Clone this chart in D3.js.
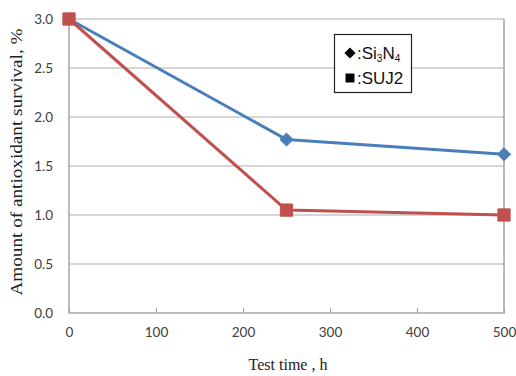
<!DOCTYPE html>
<html>
<head>
<meta charset="utf-8">
<script src="https://cdn.jsdelivr.net/npm/d3@7"></script>
<style>
	body { margin: 0; background: #fff; }
	svg { display: block; }
</style>
</head>
<body>
<div id="chart"></div>
<script>
// data
var times = [0, 250, 500];
var si3n4 = [3.0, 1.77, 1.62];
var suj2 = [3.0, 1.05, 1.0];
var xTicks = [0, 100, 200, 300, 400, 500];
var yTicks = [0, 0.5, 1.0, 1.5, 2.0, 2.5, 3.0];

var W = 516, H = 376;
var plotL = 69, plotR = 504, plotT = 19, plotB = 313;

var svg = d3.select('#chart').append('svg')
	.attr('width', W).attr('height', H);

var x = d3.scaleLinear().domain([0, 500]).range([plotL, plotR]);
var y = d3.scaleLinear().domain([0, 3]).range([plotB, plotT]);

// horizontal grid
svg.append('g').selectAll('line')
	.data(yTicks.filter(function(d) { return d > 0; }))
	.enter().append('line')
	.attr('x1', plotL).attr('x2', plotR)
	.attr('y1', function(d) { return y(d); })
	.attr('y2', function(d) { return y(d); })
	.style('stroke', '#c8c8c8')
	.style('stroke-width', 1.5);

// frame: left, right, bottom
svg.append('path')
	.attr('d', 'M' + plotL + ',' + plotT + 'V' + plotB + 'H' + plotR + 'V' + plotT)
	.style('fill', 'none')
	.style('stroke', '#a6a6a6')
	.style('stroke-width', 1.5);

// x axis: small inside ticks
var xAxis = svg.append('g')
	.attr('transform', 'translate(0,' + plotB + ')')
	.call(d3.axisBottom(x).tickValues(xTicks).tickSizeInner(-5).tickSizeOuter(0).tickPadding(14));
xAxis.select('.domain').remove();
xAxis.selectAll('line').style('stroke', '#a6a6a6').style('stroke-width', 1.2);
xAxis.selectAll('text')
	.style('font-family', 'Lato, sans-serif')
	.style('font-size', '13.5px')
	.style('fill', '#404040');

var yAxis = svg.append('g')
	.attr('transform', 'translate(' + plotL + ',0)')
	.call(d3.axisLeft(y).tickValues(yTicks).tickFormat(d3.format('.1f')).tickSize(0).tickPadding(16));
yAxis.select('.domain').remove();
yAxis.selectAll('text')
	.style('font-family', 'Lato, sans-serif')
	.style('font-size', '13.5px')
	.style('fill', '#404040');

// axis titles
svg.append('text')
	.attr('x', 288).attr('y', 370)
	.attr('text-anchor', 'middle')
	.style('font-family', '"Liberation Serif", "Times New Roman", serif')
	.style('font-size', '16px')
	.style('fill', '#222')
	.text('Test time , h');

svg.append('text')
	.attr('transform', 'translate(22,162) rotate(-90)')
	.attr('text-anchor', 'middle')
	.attr('textLength', 267)
	.attr('lengthAdjust', 'spacingAndGlyphs')
	.style('font-family', '"Liberation Serif", "Times New Roman", serif')
	.style('font-size', '17px')
	.style('fill', '#222')
	.text('Amount of antioxidant survival, %');

var line = d3.line()
	.x(function(d) { return x(d[0]); })
	.y(function(d) { return y(d[1]); });

function series(vals, color, symbol, size) {
	var pts = times.map(function(t, i) { return [t, vals[i]]; });
	var g = svg.append('g');
	g.append('path')
		.attr('d', line(pts))
		.style('fill', 'none')
		.style('stroke', color)
		.style('stroke-width', 3);
	g.selectAll('path.pt')
		.data(pts)
		.enter().append('path')
		.attr('class', 'pt')
		.attr('transform', function(d) { return 'translate(' + x(d[0]) + ',' + y(d[1]) + ')'; })
		.attr('d', d3.symbol().type(symbol).size(size))
		.style('fill', color)
		.style('stroke', color);
}

series(si3n4, '#4a7ebb', d3.symbolDiamond2, 110);
series(suj2, '#c0504d', d3.symbolSquare, 150);

// legend
var legend = svg.append('g');
legend.append('rect')
	.attr('x', 334.5).attr('y', 34.5)
	.attr('width', 77).attr('height', 58)
	.style('fill', '#fff')
	.style('stroke', '#222')
	.style('stroke-width', 1.2);

legend.append('path')
	.attr('transform', 'translate(350,53)')
	.attr('d', d3.symbol().type(d3.symbolDiamond2).size(80))
	.style('fill', '#000');
legend.append('path')
	.attr('transform', 'translate(350,78)')
	.attr('d', d3.symbol().type(d3.symbolSquare).size(80))
	.style('fill', '#000');

var lt = legend.append('text')
	.attr('x', 357).attr('y', 59)
	.style('font-family', '"Liberation Sans Narrow", "Liberation Sans", Arial, sans-serif')
	.style('font-size', '17px')
	.style('fill', '#111');
lt.append('tspan').text(':Si');
lt.append('tspan').attr('font-size', '10px').attr('dy', 3).text('3');
lt.append('tspan').attr('dy', -3).text('N');
lt.append('tspan').attr('font-size', '10px').attr('dy', 3).text('4');

legend.append('text')
	.attr('x', 357).attr('y', 84)
	.style('font-family', '"Liberation Sans Narrow", "Liberation Sans", Arial, sans-serif')
	.style('font-size', '17px')
	.style('fill', '#111')
	.text(':SUJ2');
</script>
</body>
</html>
